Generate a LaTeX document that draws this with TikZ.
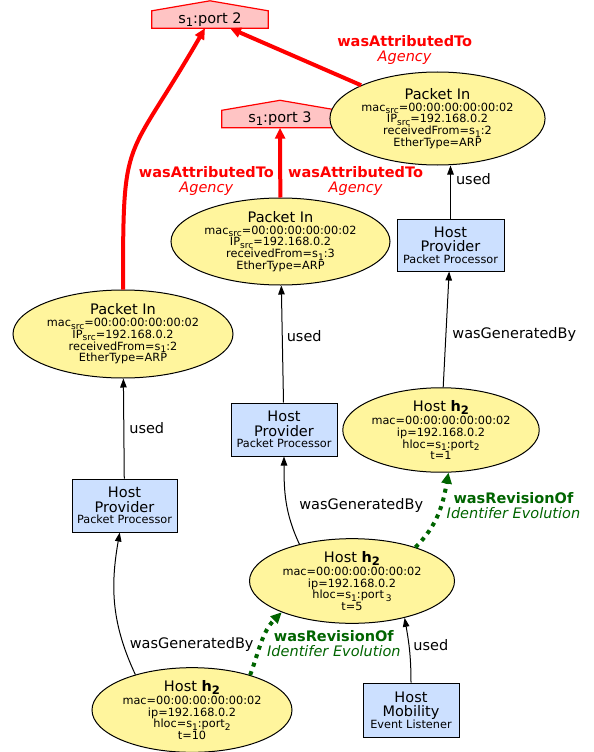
\documentclass[tikz,border=0pt]{standalone}
\usepackage{fontspec}
\setmainfont{DejaVu Sans}
\usepackage{graphicx}
\usepackage{tikz}
\usetikzlibrary{calc}
\usetikzlibrary{shapes.geometric}
\usetikzlibrary{arrows.meta}
\usetikzlibrary{backgrounds}
\definecolor{entityfill}{HTML}{FFF59D}
\definecolor{activityfill}{HTML}{CCE0FF}
\definecolor{agentfill}{HTML}{FFC4C4}
\definecolor{revgreen}{HTML}{006400}
\newcommand{\low}[1]{\raisebox{-0.4ex}{\scalebox{0.8}{#1}}}
\newcommand{\nodetitle}[1]{{\fontsize{14.5}{14.5}\selectfont #1}}
\newcommand{\smallline}[1]{{\fontsize{11.3}{11.3}\selectfont #1}}

\begin{document}
\begin{tikzpicture}[x=1pt,y=1pt,
  entity/.style={ellipse,draw,fill=entityfill,line width=1pt,inner sep=0pt,align=center,font=\fontsize{11.3}{11.8}\selectfont},
  activity/.style={rectangle,draw,fill=activityfill,line width=1pt,inner sep=0pt,align=center,font=\fontsize{14.5}{14.8}\selectfont},
  agent/.style={rectangle,inner sep=0pt,minimum width=116pt,minimum height=17pt,font=\fontsize{14.5}{14.5}\selectfont},
  rel/.style={-{Triangle[length=9pt,width=6.5pt]},line width=1pt},
  attr/.style={-{Triangle[length=11pt,width=10pt]},line width=4pt,red},
  rev/.style={-{Triangle[length=11pt,width=10pt]},line width=4pt,revgreen,dash pattern=on 4pt off 5pt},
  lbl/.style={font=\fontsize{14.5}{15}\selectfont,inner sep=1pt,align=center}]
\useasboundingbox (0,0) rectangle (594,-752);

% agents
\node[agent] (port2) at (210,-19.5) {s\low{1}:port 2};
\node[agent] (port3) at (280,-119) {s\low{1}:port 3};
\begin{scope}[on background layer]
\foreach \p in {port2,port3}
  \draw[red,fill=agentfill,line width=1.2pt] (\p.south west) -- (\p.north west) -- ($(\p.north)+(0,10)$) -- (\p.north east) -- (\p.south east) -- cycle;
\end{scope}

% packets
\node[entity,minimum width=191pt,minimum height=93pt] (pktA) at (437.5,-118.5) {\nodetitle{Packet In}\\mac\low{src}=00:00:00:00:00:02\\IP\low{src}=192.168.0.2\\receivedFrom=s\low{1}:2\\EtherType=ARP};
\node[entity,minimum width=219pt,minimum height=87pt] (pktB) at (280.5,-241.5) {\nodetitle{Packet In}\\mac\low{src}=00:00:00:00:00:02\\IP\low{src}=192.168.0.2\\receivedFrom=s\low{1}:3\\EtherType=ARP};
\node[entity,minimum width=220pt,minimum height=88pt] (pktC) at (123,-334) {\nodetitle{Packet In}\\mac\low{src}=00:00:00:00:00:02\\IP\low{src}=192.168.0.2\\receivedFrom=s\low{1}:2\\EtherType=ARP};

% processors
\node[activity,minimum width=107pt,minimum height=52pt] (procR) at (450.5,-245) {Host\\Provider\\[-3.5pt]\smallline{Packet Processor}};
\node[activity,minimum width=106pt,minimum height=53pt] (procM) at (284,-429.5) {Host\\Provider\\[-3.5pt]\smallline{Packet Processor}};
\node[activity,minimum width=105pt,minimum height=53pt] (procL) at (124.5,-505.5) {Host\\Provider\\[-3.5pt]\smallline{Packet Processor}};
\node[activity,minimum width=96pt,minimum height=54pt] (mobility) at (411,-710) {Host\\Mobility\\[-3.5pt]\smallline{Event Listener}};

% hosts
\node[entity,minimum width=186pt,minimum height=78pt] (hostA) at (441,-430) {\nodetitle{Host \textbf{h\low{2}}}\\[1.5pt]mac=00:00:00:00:00:02\\ip=192.168.0.2\\hloc=s\low{1}:port\low{2}\\t=1};
\node[entity,minimum width=205pt,minimum height=79pt] (hostB) at (352,-581) {\nodetitle{Host \textbf{h\low{2}}}\\[1.5pt]mac=00:00:00:00:00:02\\ip=192.168.0.2\\hloc=s\low{1}:port\,\low{3}\\t=5};
\node[entity,minimum width=200pt,minimum height=80pt] (hostC) at (192,-710) {\nodetitle{Host \textbf{h\low{2}}}\\[1.5pt]mac=00:00:00:00:00:02\\ip=192.168.0.2\\hloc=s\low{1}:port\low{2}\\t=10};

% attribution
\draw[attr] (pktC) to[out=90,in=-120,looseness=1.5] node[lbl,pos=0.38,anchor=west,xshift=8pt,yshift=-9pt]{\textbf{wasAttributedTo}\\\textit{Agency}} (port2);
\draw[attr] (pktB) -- node[lbl,pos=0.27,anchor=west,xshift=5pt,yshift=-2pt]{\textbf{wasAttributedTo}\\\textit{Agency}} (port3);
\draw[attr] (pktA) -- node[lbl,pos=0.25,anchor=south west,xshift=6pt,yshift=3pt]{\textbf{wasAttributedTo}\\\textit{Agency}} (port2);

% usage and generation
\draw[rel] (procR) -- node[lbl,pos=0.74,anchor=west,xshift=4pt]{used} (procR |- pktA.south);
\draw[rel] (hostA) -- node[lbl,pos=0.46,anchor=west,xshift=5pt]{wasGeneratedBy} (procR);
\draw[rel] (procM) -- node[lbl,pos=0.57,anchor=west,xshift=3pt]{used} (pktB);
\draw[rel] (hostB.145) to[out=115,in=-90] node[lbl,pos=0.45,anchor=west,xshift=11pt]{wasGeneratedBy} (procM);
\draw[rel] (procL) -- node[lbl,pos=0.5,anchor=west,xshift=4pt]{used} (pktC);
\draw[rel] (hostC.148) to[out=115,in=-100] node[lbl,pos=0.21,anchor=west,xshift=5pt]{wasGeneratedBy} (procL);
\draw[rel] (mobility) to[out=90,in=-80] node[lbl,pos=0.58,anchor=west,xshift=3pt]{used} (hostB.-35);

% revisions
\draw[rev] (hostB.28) to[out=45,in=-100] node[lbl,pos=0.55,anchor=west,xshift=4pt,yshift=4pt]{\textbf{wasRevisionOf}\\\textit{Identifer Evolution}} (hostA.-80);
\draw[rev] (hostC.31) to[out=70,in=-135] node[lbl,pos=0.5,anchor=west,xshift=2pt,yshift=-2pt]{\textbf{wasRevisionOf}\\\textit{Identifer Evolution}} (hostB.204);
\end{tikzpicture}
\end{document}
